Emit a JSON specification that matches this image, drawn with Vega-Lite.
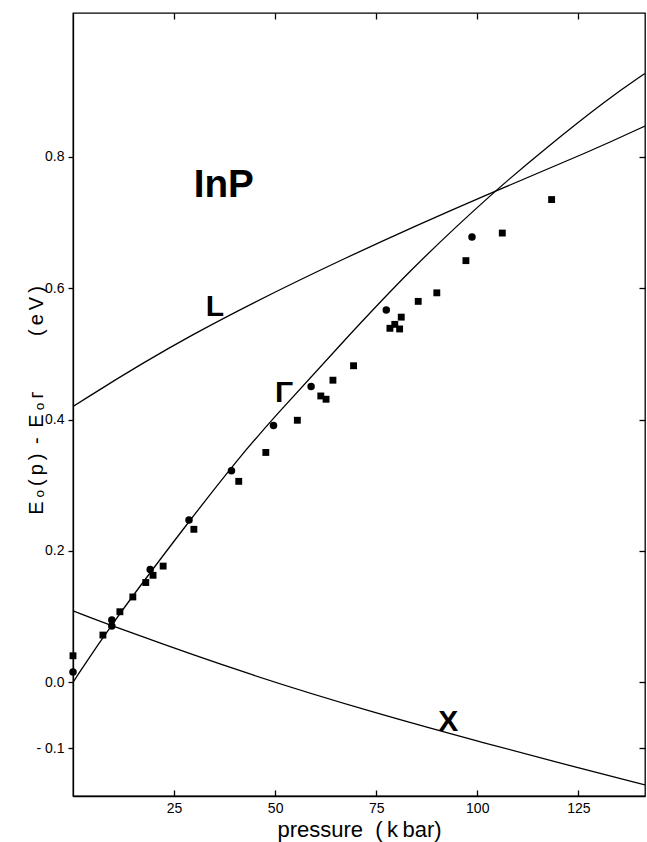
{
  "$schema": "https://vega.github.io/schema/vega-lite/v6.json",
  "width": 572,
  "height": 783,
  "autosize": {"type": "none"},
  "padding": {"left": 73, "top": 13, "right": 2, "bottom": 46},
  "background": "white",
  "config": {
    "view": {"stroke": "black", "strokeWidth": 1.3},
    "axis": {
      "domainColor": "black", "tickColor": "black", "labelColor": "black", "titleColor": "black",
      "labelFont": "Liberation Sans", "titleFont": "Liberation Sans", "grid": false,
      "domainWidth": 1.3, "tickWidth": 1.3, "labelFontSize": 14, "titleFontWeight": "normal"
    }
  },
  "datasets": {
    "curves": [
      {"curve": "Gamma", "p": 0, "v": 0.0},
      {"curve": "Gamma", "p": 9.1, "v": 0.0857},
      {"curve": "Gamma", "p": 28.9, "v": 0.247},
      {"curve": "Gamma", "p": 41.2, "v": 0.343},
      {"curve": "Gamma", "p": 49.5, "v": 0.402},
      {"curve": "Gamma", "p": 66.0, "v": 0.513},
      {"curve": "Gamma", "p": 83.3, "v": 0.628},
      {"curve": "Gamma", "p": 104.3, "v": 0.748},
      {"curve": "Gamma", "p": 116.3, "v": 0.81},
      {"curve": "Gamma", "p": 132.0, "v": 0.887},
      {"curve": "Gamma", "p": 141.5, "v": 0.927},
      {"curve": "L", "p": 0, "v": 0.42},
      {"curve": "L", "p": 26.8, "v": 0.524},
      {"curve": "L", "p": 68.5, "v": 0.651},
      {"curve": "L", "p": 104.3, "v": 0.748},
      {"curve": "L", "p": 128.6, "v": 0.81},
      {"curve": "L", "p": 141.5, "v": 0.847},
      {"curve": "X", "p": 0, "v": 0.109},
      {"curve": "X", "p": 9.7, "v": 0.0857},
      {"curve": "X", "p": 43.7, "v": 0.011},
      {"curve": "X", "p": 75.9, "v": -0.0487},
      {"curve": "X", "p": 100.6, "v": -0.0904},
      {"curve": "X", "p": 125.4, "v": -0.131},
      {"curve": "X", "p": 141.5, "v": -0.156}
    ],
    "points": [
      {"kind": "square", "p": 0, "v": 0.0405},
      {"kind": "circle", "p": 0, "v": 0.0157},
      {"kind": "square", "p": 7.4, "v": 0.072},
      {"kind": "circle", "p": 9.6, "v": 0.0948},
      {"kind": "circle", "p": 9.6, "v": 0.0857},
      {"kind": "square", "p": 11.6, "v": 0.1075},
      {"kind": "square", "p": 14.8, "v": 0.13},
      {"kind": "square", "p": 18.0, "v": 0.152},
      {"kind": "circle", "p": 19.1, "v": 0.172},
      {"kind": "square", "p": 19.8, "v": 0.163},
      {"kind": "square", "p": 22.3, "v": 0.177},
      {"kind": "circle", "p": 28.7, "v": 0.247},
      {"kind": "square", "p": 29.9, "v": 0.233},
      {"kind": "circle", "p": 39.2, "v": 0.322},
      {"kind": "square", "p": 41.0, "v": 0.306},
      {"kind": "square", "p": 47.7, "v": 0.35},
      {"kind": "circle", "p": 49.6, "v": 0.391},
      {"kind": "square", "p": 55.5, "v": 0.399},
      {"kind": "circle", "p": 58.9, "v": 0.4505},
      {"kind": "square", "p": 61.3, "v": 0.436},
      {"kind": "square", "p": 62.6, "v": 0.431},
      {"kind": "square", "p": 64.3, "v": 0.46},
      {"kind": "square", "p": 69.4, "v": 0.482},
      {"kind": "circle", "p": 77.5, "v": 0.567},
      {"kind": "square", "p": 81.2, "v": 0.556},
      {"kind": "square", "p": 79.6, "v": 0.545},
      {"kind": "square", "p": 78.4, "v": 0.539},
      {"kind": "square", "p": 80.8, "v": 0.538},
      {"kind": "square", "p": 85.4, "v": 0.58},
      {"kind": "square", "p": 90.0, "v": 0.593},
      {"kind": "square", "p": 97.2, "v": 0.642},
      {"kind": "circle", "p": 98.7, "v": 0.678},
      {"kind": "square", "p": 106.2, "v": 0.684},
      {"kind": "square", "p": 118.4, "v": 0.735}
    ],
    "labels": [
      {"text": "InP", "p": 37.3, "v": 0.757, "big": "yes"},
      {"text": "L", "p": 35.1, "v": 0.572, "big": "no"},
      {"text": "Γ", "p": 52.2, "v": 0.441, "big": "no"},
      {"text": "X", "p": 92.8, "v": -0.06, "big": "no"}
    ]
  },
  "layer": [
    {
      "data": {"name": "curves"},
      "mark": {"type": "line", "color": "black", "strokeWidth": 1.3, "interpolate": "basis", "clip": true},
      "encoding": {
        "x": {
          "field": "p", "type": "quantitative",
          "scale": {"domain": [0, 141.5], "nice": false, "zero": false},
          "axis": {
            "orient": "bottom", "values": [25, 50, 75, 100, 125], "tickSize": -6, "labelPadding": 11,
            "title": "pressure\u00a0\u00a0(\u2009k\u2009bar)", "titleFontSize": 22, "titleY": 40, "titleBaseline": "alphabetic"
          }
        },
        "y": {
          "field": "v", "type": "quantitative",
          "scale": {"domain": [-0.173, 1.019], "nice": false, "zero": false},
          "axis": {
            "orient": "left", "values": [-0.1, 0, 0.2, 0.4, 0.6, 0.8], "tickSize": 5, "labelPadding": 4,
            "labelExpr": "datum.value < 0 ? '- 0.1' : format(datum.value, '.1f')",
            "title": "E\u2009ₒ\u2009(\u2009p\u2009)\u2009\u00a0-\u00a0\u2009E\u2009ₒ\u2009ᴦ\u00a0\u00a0\u00a0\u00a0\u00a0\u00a0\u00a0\u00a0\u00a0\u00a0(\u2009e\u2009V\u2009)", "titleFontSize": 20, "titleAngle": -90,
            "titleX": -37, "titleY": 387, "titleAlign": "center", "titleBaseline": "middle"
          }
        },
        "detail": {"field": "curve"}
      }
    },
    {
      "mark": {"type": "rule", "color": "black", "strokeWidth": 1.3},
      "encoding": {"y": {"datum": 0, "type": "quantitative", "axis": null}}
    },
    {
      "data": {"name": "points"},
      "mark": {"type": "point", "filled": true, "color": "black", "opacity": 1},
      "encoding": {
        "x": {"field": "p", "type": "quantitative", "axis": null},
        "y": {"field": "v", "type": "quantitative", "axis": null},
        "shape": {"field": "kind", "type": "nominal", "scale": {"domain": ["circle", "square"], "range": ["circle", "square"]}, "legend": null},
        "size": {"field": "kind", "type": "nominal", "scale": {"domain": ["circle", "square"], "range": [56, 30]}, "legend": null}
      }
    },
    {
      "data": {"name": "labels"},
      "mark": {"type": "text", "color": "black", "font": "Liberation Sans", "fontWeight": "bold", "align": "center", "baseline": "middle"},
      "encoding": {
        "x": {"field": "p", "type": "quantitative", "axis": {"orient": "top", "values": [25, 50, 75, 100, 125], "tickSize": -6, "labels": false, "domain": false, "title": null}},
        "y": {"field": "v", "type": "quantitative", "axis": {"orient": "right", "values": [-0.1, 0, 0.2, 0.4, 0.6, 0.8], "tickSize": -6, "labels": false, "domain": false, "title": null}},
        "text": {"field": "text"},
        "size": {"field": "big", "type": "nominal", "scale": {"domain": ["yes", "no"], "range": [33, 19]}, "legend": null}
      }
    }
  ],
  "resolve": {"axis": {"x": "independent", "y": "independent"}}
}
